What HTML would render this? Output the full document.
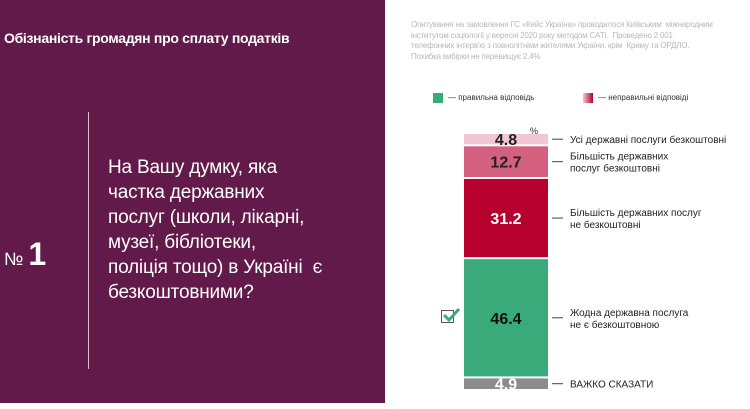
<!DOCTYPE html>
<html><head><meta charset="utf-8"><style>
body{margin:0;width:750px;height:409px;background:#fff;position:relative;overflow:hidden;font-family:"Liberation Sans","DejaVu Sans",sans-serif}
#panel{position:absolute;left:0;top:0;width:385px;height:403px;background:#621a4a}
.t{position:absolute;color:#fff}
</style></head><body>
<div id="panel">
<div class="t" style="left:4px;top:30px;font-size:14px;font-weight:bold;letter-spacing:-0.3px">Обізнаність громадян про сплату податків</div>
<div style="position:absolute;left:88px;top:112px;width:1px;height:257px;background:#d8c0cc"></div>
<div class="t" style="left:4px;top:236px;font-size:18px">№ <span style="font-size:32px;font-weight:bold">1</span></div>
<div class="t" style="left:108px;top:155px;font-size:19px;line-height:25px;letter-spacing:-0.2px">На Вашу думку, яка<br>частка державних<br>послуг (школи, лікарні,<br>музеї, бібліотеки,<br>поліція тощо) в Україні&nbsp; є<br>безкоштовними?</div>
</div>
<div style="position:absolute;left:411px;top:20px;font-size:8px;line-height:10.5px;color:#b8b8b8;width:330px;letter-spacing:-0.2px">Опитування на замовлення ГС «Кейс Україна» проводилося Київським&nbsp; міжнародним<br>інститутом соціології у вересні 2020 року методом CATI.&nbsp; Проведено 2 001<br>телефонних інтерв'ю з повнолітніми жителями України, крім&nbsp; Криму та ОРДЛО.<br>Похибка вибірки не перевищує 2.4%</div>
<div style="position:absolute;left:433px;top:93px;font-size:8px;color:#333"><span style="display:inline-block;width:10px;height:10px;background:#3aaa7a;vertical-align:middle;margin-right:5px"></span>— правильна відповідь</div>
<div style="position:absolute;left:583px;top:93px;font-size:8px;color:#333"><span style="display:inline-block;width:10px;height:10px;background:linear-gradient(90deg,#f2c7d3,#b8002e);vertical-align:middle;margin-right:5px"></span>— неправильні відповіді</div>
<div style="position:absolute;left:530px;top:126px;font-size:9px;color:#333">%</div>
<svg id="chart" width="750" height="409" style="position:absolute;left:0;top:0"></svg>
<div style="position:absolute;left:441px;top:310px;width:11px;height:11px;border:1.5px solid #555"></div>
<svg style="position:absolute;left:441px;top:306px" width="20" height="18"><path d="M3 9 L8 14 L18 3" stroke="#3aaa7a" stroke-width="3" fill="none"/></svg>
<script>
const categories=["ВАЖКО СКАЗАТИ","Жодна державна послуга|не є безкоштовною","Більшість державних послуг|не безкоштовні","Більшість державних|послуг безкоштовні","Усі державні послуги безкоштовні"];
const values=[4.9,46.4,31.2,12.7,4.8];
const colors=["#8c8c8c","#3aaa7a","#b8002e","#d4607f","#f2c7d3"];
const textColors=["#fff","#111","#fff","#222","#222"];
const svg=document.getElementById('chart');const NS="http://www.w3.org/2000/svg";
const x0=464,w=84,yBottom=391,scale=257/100,gap=2;
function y(v){return yBottom-v*scale;}
let cum=0;
values.forEach((v,i)=>{
 const top=y(cum+v),bot=y(cum);
 const r=document.createElementNS(NS,'rect');
 r.setAttribute('x',x0);r.setAttribute('y',top);r.setAttribute('width',w);r.setAttribute('height',Math.max(1,bot-top-gap));
 r.setAttribute('fill',colors[i]);
 
 
 svg.appendChild(r);
 const mid=(top+bot-gap)/2;
 const t=document.createElementNS(NS,'text');
 t.setAttribute('x',x0+w/2);t.setAttribute('y',mid+6);t.setAttribute('text-anchor','middle');
 t.setAttribute('font-size','16');t.setAttribute('font-weight','bold');t.setAttribute('fill',textColors[i]);
 t.setAttribute('font-family','Liberation Sans, sans-serif');t.textContent=v.toFixed(1);
 
 
 svg.appendChild(t);
 const l=document.createElementNS(NS,'line');
 l.setAttribute('x1',552);l.setAttribute('x2',563);l.setAttribute('y1',mid);l.setAttribute('y2',mid);l.setAttribute('stroke','#444');
 
 
 svg.appendChild(l);
 const lines=categories[i].split('|');
 lines.forEach((s,j)=>{
  const c=document.createElementNS(NS,'text');
  c.setAttribute('x',570);c.setAttribute('y',mid+4+(j-(lines.length-1)/2)*12);
  c.setAttribute('font-size','10');c.setAttribute('fill','#222');c.setAttribute('font-family','Liberation Sans, sans-serif');
  c.textContent=s;
  
  
  svg.appendChild(c);
 });
 cum+=v;
});
</script>
</body></html>
